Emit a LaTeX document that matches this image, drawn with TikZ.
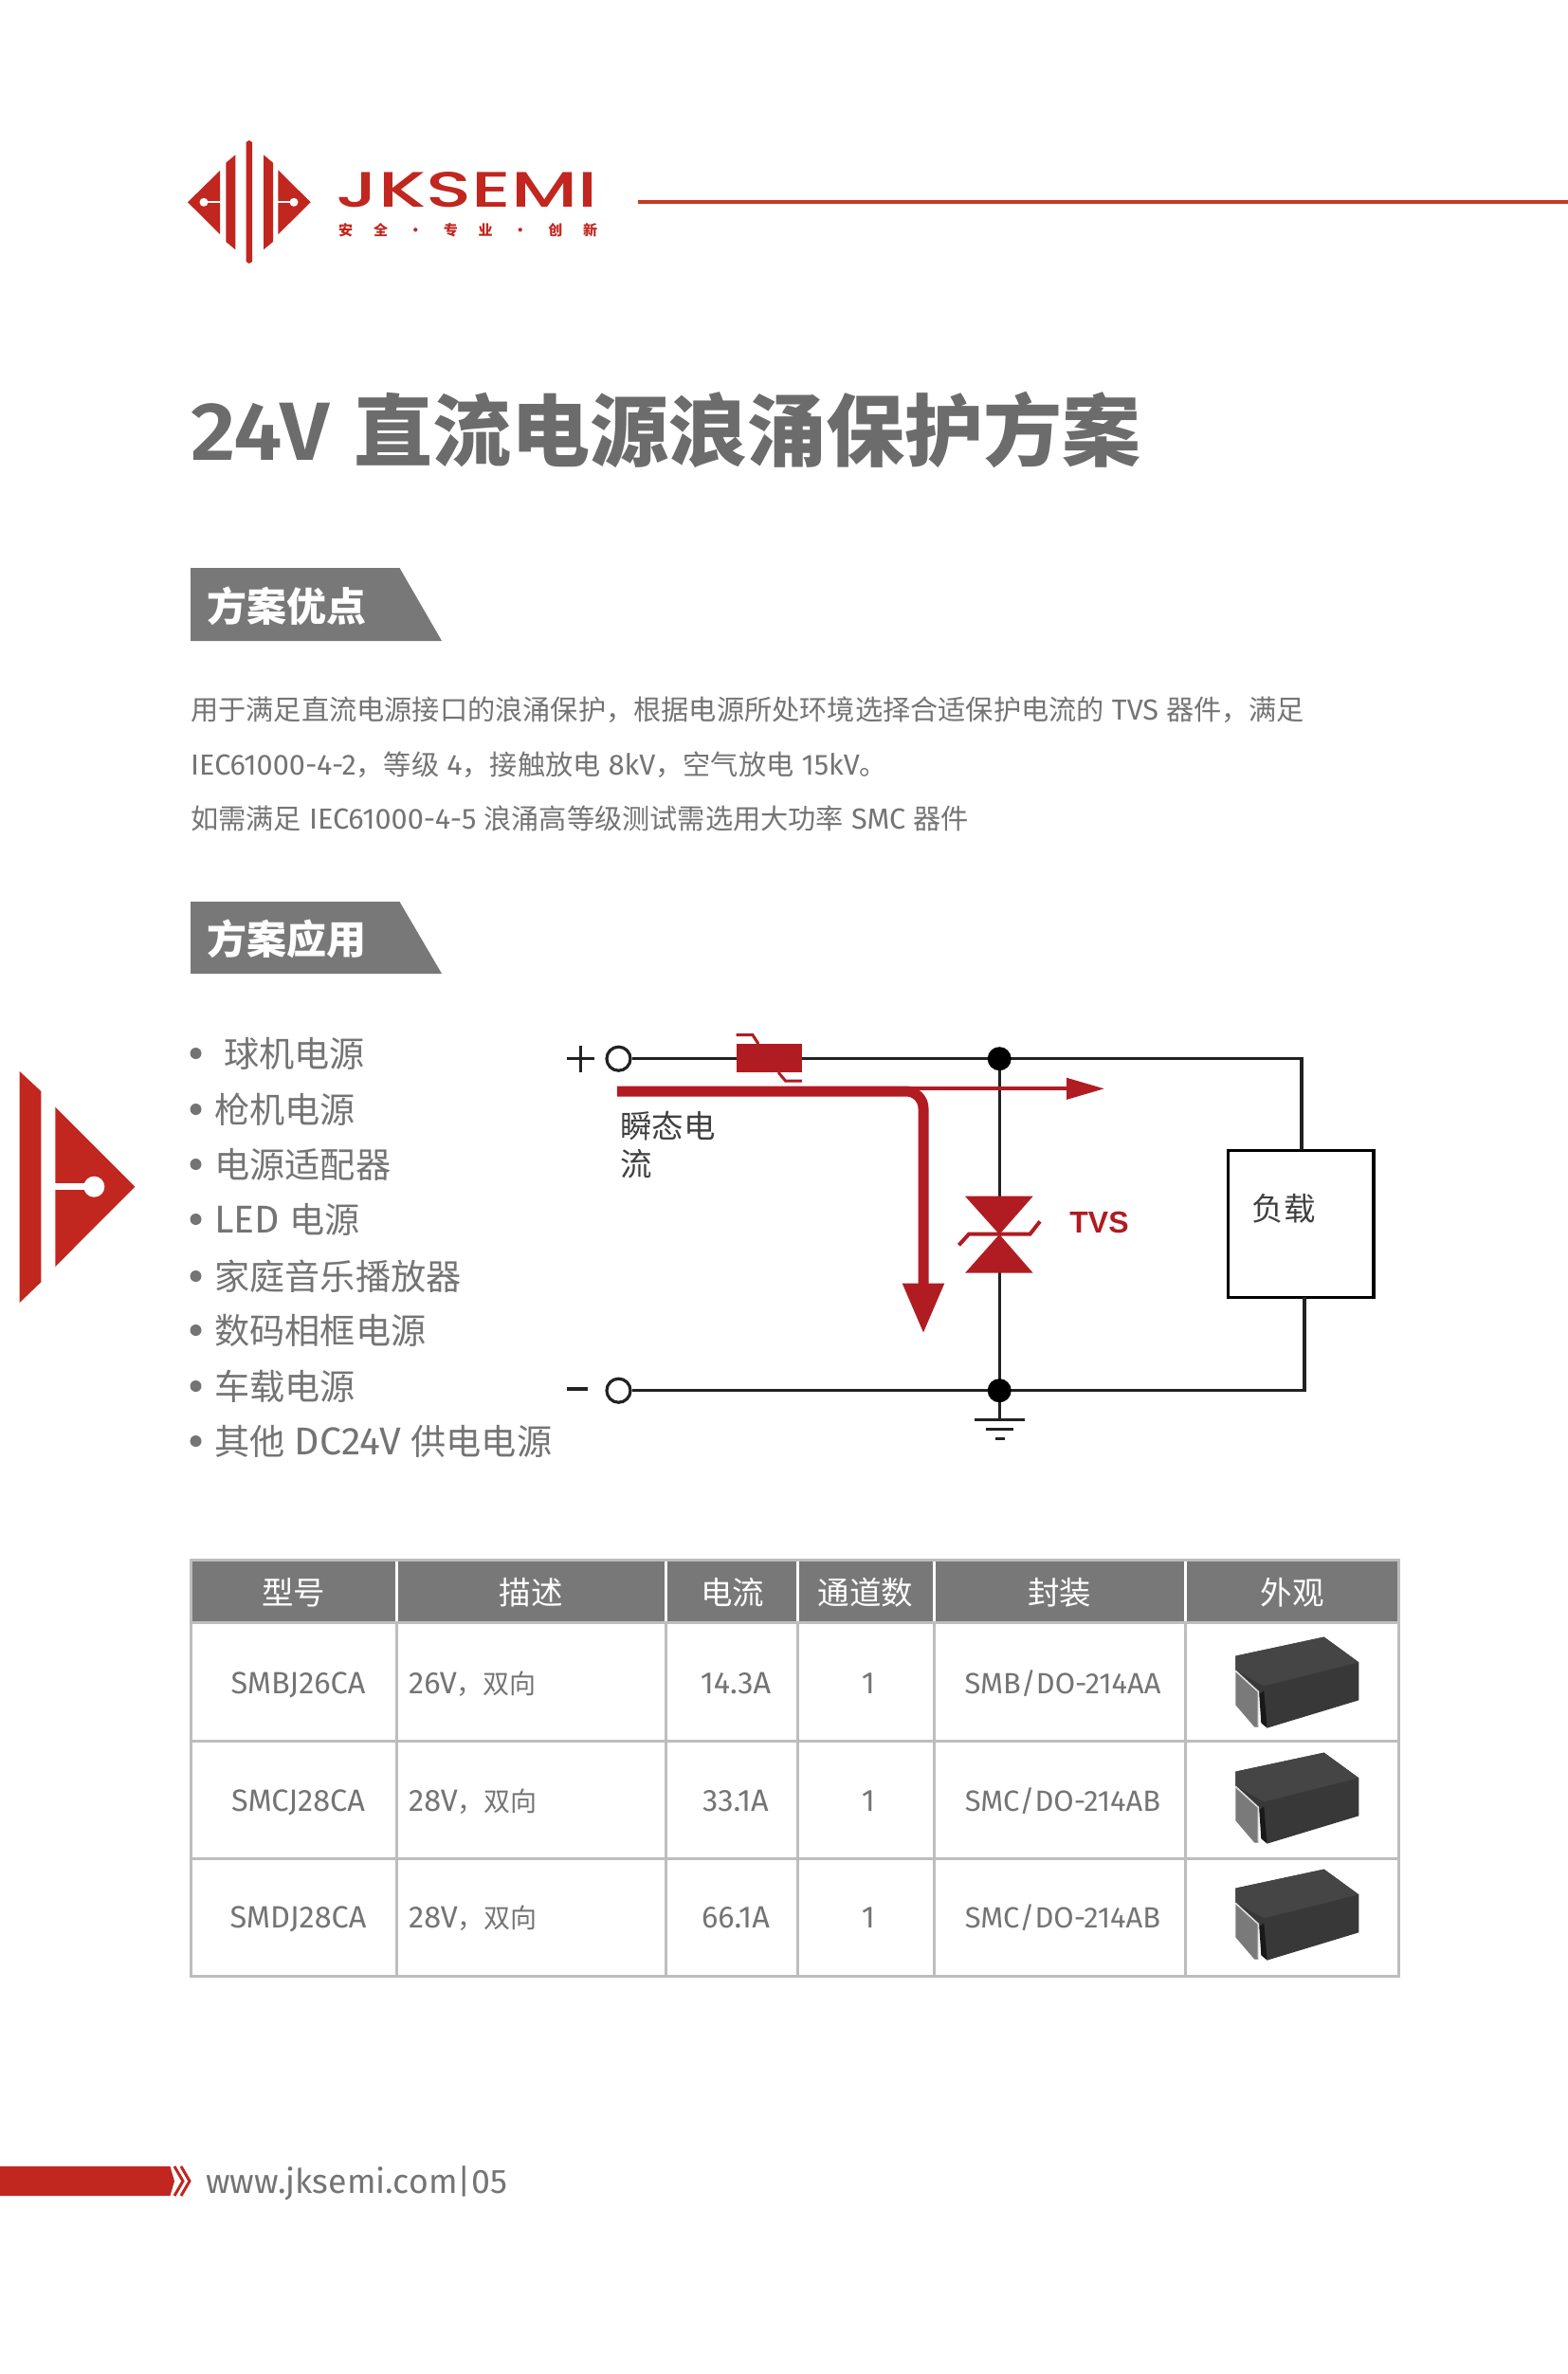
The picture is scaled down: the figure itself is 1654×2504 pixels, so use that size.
\documentclass[tikz,border=0pt]{standalone}
\usepackage{fontspec}
\usepackage{graphicx}
\usetikzlibrary{arrows.meta,calc}
\setmainfont{Fira Sans}[Scale=1.05,BoldFont=* SemiBold]
\newfontfamily\cjk{Noto Sans CJK SC}
\newfontfamily\logofont{Poppins}[UprightFont=* Medium]
\newfontfamily\tvsfont{Liberation Sans}
\newcommand{\zh}[1]{{\cjk #1}}
\newcommand{\fsize}[1]{\fontsize{#1}{#1}\selectfont}
\definecolor{brandred}{HTML}{C1261F}
\definecolor{rulered}{HTML}{C63A26}
\definecolor{surgered}{HTML}{B01C22}
\definecolor{tagfill}{HTML}{787878}
\definecolor{bodygray}{HTML}{747474}
\definecolor{titlegray}{HTML}{6C6C6C}
\definecolor{gridgray}{HTML}{BDBDBD}
\definecolor{wirecol}{HTML}{222222}
\tikzset{
  para/.style={anchor=west,inner sep=0pt,text=bodygray,font=\fsize{29.2},text height=25.7pt,text depth=3.5pt},
  taglabel/.style={anchor=west,inner sep=0pt,text=white,font=\fsize{42}\bfseries},
  appitem/.style={anchor=west,inner sep=0pt,text=bodygray,font=\fsize{37.2},text height=32.7pt,text depth=4.5pt},
  headcell/.style={inner sep=0pt,text=white,font=\fsize{33.5}},
  bodycell/.style={inner sep=0pt,text=bodygray,font=\fsize{30.9},text height=24.6pt,text depth=3.4pt},
  wire/.style={draw=wirecol,line width=3.2pt},
  terminal/.style={circle,draw=wirecol,line width=3.2pt,fill=white,minimum size=25pt,inner sep=0pt},
  junction/.style={circle,fill=black,minimum size=25pt,inner sep=0pt},
  cirlabel/.style={inner sep=0pt,text=black!75,font=\fsize{33.5}},
  chip/.pic={
    \fill[black!78] (-65,-26.7) -- (28.3,-46.7) -- (65,-20) -- (65,20) -- (-31.7,49.3) -- (-40,13.3) -- (-65,-11.7) -- cycle;
    \fill[black!73] (-35,5) -- (65,-20) -- (28.3,-46.7) -- (-65,-26.7) -- (-65,-11.7) -- cycle;
    \fill[black!52] (-65,-10) -- (-41,11.7) -- (-41,48.3) -- (-45,48.3) -- (-65,25) -- cycle;
    \draw[black!12,line width=1.5pt] (-65,-11) -- (-41,11) -- (-41,47);
    \fill[black!90] (-40,14) -- (-35,10) -- (-31.7,49.3) -- (-38,44) -- cycle;
  }
}
\begin{document}
\begin{tikzpicture}[x=1pt,y=-1pt]
  \useasboundingbox (0,0) rectangle (1654,2504);
  % logo
  \fill[brandred] (198,213.3) -- (232,180) -- (232,247) -- cycle;
  \fill[brandred] (238.3,171.7) -- (248.3,163.3) -- (248.3,263.3) -- (238.3,255) -- cycle;
  \fill[brandred] (259.7,150) -- (262.8,148) -- (266,150) -- (266,276) -- (262.8,278) -- (259.7,276) -- cycle;
  \fill[brandred] (278,163.3) -- (288,171.7) -- (288,255) -- (278,263.3) -- cycle;
  \fill[brandred] (293.3,179.3) -- (327.7,213.3) -- (293.3,247.3) -- cycle;
  \fill[white] (215,213.3) circle (4.5);
  \fill[white] (310,213.3) circle (4.5);
  \draw[white,line width=2pt] (215,213.3) -- (232,213.3);
  \draw[white,line width=2pt] (293.3,213.3) -- (310,213.3);
  \node[anchor=north west,inner sep=0pt,text=brandred] (logotext) at (354,181.7) {\resizebox{276pt}{37pt}{\logofont JKSEMI}};
  \node[anchor=west,inner sep=0pt,text=brandred,font=\fsize{15}\cjk\bfseries] (slogan) at (357,243)
    {\makebox[273pt][s]{安\hfill 全\hfill ·\hfill 专\hfill 业\hfill ·\hfill 创\hfill 新}};
  \coordinate (rulestart) at (673,213);
  \coordinate (ruleend) at (1654,213);
  \draw[rulered,line width=3.5pt] (rulestart) -- (ruleend);
  % title
  \node[anchor=west,inner sep=0pt,text=titlegray,font=\fsize{83}\bfseries] (title) at (201,453)
    {\scalebox{1.06}[1]{24V}\hspace{4pt} \zh{直流电源浪涌保护方案}};
  % advantages
  \fill[tagfill] (201,599) -- (421.5,599) -- (466,676) -- (201,676) -- cycle;
  \node[taglabel] (tagone) at (218,639) {\zh{方案优点}};
  \node[para] (lineone) at (201,748) {\zh{用于满足直流电源接口的浪涌保护，根据电源所处环境选择合适保护电流的} TVS \zh{器件，满足}};
  \node[para] (linetwo) at (201,806) {IEC61000-4-2\zh{，等级} 4\zh{，接触放电} 8kV\zh{，空气放电} 15kV\zh{。}};
  \node[para] (linethree) at (201,863) {\zh{如需满足} IEC61000-4-5 \zh{浪涌高等级测试需选用大功率} SMC \zh{器件}};
  % applications
  \fill[tagfill] (201,951) -- (421.5,951) -- (466,1027) -- (201,1027) -- cycle;
  \node[taglabel] (tagtwo) at (218,990) {\zh{方案应用}};
  \foreach \y/\item/\xpos/\idx in {
    1111/{\zh{球机电源}}/236/a, 1170/{\zh{枪机电源}}/226/b, 1228/{\zh{电源适配器}}/226/c,
    1286/{{\fsize{39}LED} \zh{电源}}/226/d, 1346/{\zh{家庭音乐播放器}}/226/e, 1403/{\zh{数码相框电源}}/226/f,
    1462/{\zh{车载电源}}/226/g, 1520/{\zh{其他} {\fsize{39}DC24V} \zh{供电电源}}/226/h}{
    \fill[bodygray] (206.5,\y) circle (6);
    \node[appitem] (app\idx) at (\xpos,\y) {\item};
  }
  % circuit
  \node[terminal] (plus) at (652.5,1116.7) {};
  \node[terminal] (minus) at (652.5,1466.7) {};
  \node[draw=black,line width=3.5pt,minimum width=153.5pt,minimum height=155pt,inner sep=0pt] (load) at (1372.2,1290.8) {};
  \node[cirlabel] (loadtext) at (1354,1275) {\zh{负载}};
  \coordinate (jtop) at (1054.2,1116.7);
  \coordinate (jbot) at (1054.2,1466.7);
  \coordinate (ctop) at (1373,1116.7);
  \coordinate (cbot) at (1376,1466.7);
  \coordinate (loadin) at (1373,1213.3);
  \coordinate (loadout) at (1376,1368.3);
  \coordinate (gnd) at (1054.2,1497.3);
  \draw[wire] (plus) -- (jtop) -- (ctop) -- (loadin);
  \draw[wire] (minus) -- (jbot) -- (cbot) -- (loadout);
  \draw[wire] (jtop) -- (jbot) -- (gnd);
  \draw[wirecol,line width=3.5pt] (1028,1497.3) -- (1081,1497.3);
  \draw[wirecol,line width=3.5pt] (1039.7,1507.7) -- (1069,1507.7);
  \draw[wirecol,line width=3.5pt] (1049.7,1517.7) -- (1060.3,1517.7);
  \node[junction] at (jtop) (dottop) {};
  \node[junction] at (jbot) (dotbot) {};
  \draw[wirecol,line width=3pt] (598,1116.7) -- (627,1116.7);
  \draw[wirecol,line width=3pt] (612.5,1103) -- (612.5,1130.5);
  \draw[wirecol,line width=3.5pt] (598,1465) -- (620,1465);
  % fuse
  \fill[surgered] (776.6,1100.7) rectangle (845.8,1131);
  \draw[surgered,line width=3pt] (776.6,1091.7) -- (794,1091.7) -- (800,1101);
  \draw[surgered,line width=3pt] (845.8,1140) -- (828.5,1140) -- (821,1131);
  % surge path
  \coordinate (flowstart) at (650.8,1151);
  \coordinate (flowbend) at (974,1151);
  \coordinate (flowend) at (974,1406.7);
  \coordinate (thinstart) at (958,1148.3);
  \coordinate (thinend) at (1165,1148.3);
  \draw[surgered,line width=4pt,-{Triangle[width=22pt,length=40pt]}] (thinstart) -- (thinend);
  \draw[surgered,line width=11pt,rounded corners=18pt,-{Triangle[width=41pt,length=53pt]}] (flowstart) -- (flowbend) -- (flowend);
  \node[cirlabel,anchor=west] (surgea) at (654,1188) {\zh{瞬态电}};
  \node[cirlabel,anchor=west] (surgeb) at (654,1228) {\zh{流}};
  % tvs
  \fill[surgered] (1018,1261.7) -- (1089.7,1261.7) -- (1054.2,1302) -- cycle;
  \fill[surgered] (1018,1342.7) -- (1089.7,1342.7) -- (1054.2,1302) -- cycle;
  \draw[surgered,line width=4pt] (1097,1288.3) -- (1086.5,1301.7) -- (1022,1301.7) -- (1011.5,1313.3);
  \node[inner sep=0pt,text=surgered,font=\fsize{32}\tvsfont\bfseries] (tvs) at (1159.5,1289) {TVS};
  % table
  \fill[tagfill] (201,1645) rectangle (1475,1711.7);
  \foreach \x in {418.3,702.5,841.4,985,1250.5}
    \draw[white,line width=3pt] (\x,1647) -- (\x,1711.7);
  \draw[gridgray,line width=3pt] (201,1645) rectangle (1475,2084.3);
  \foreach \y in {1711.7,1836,1960}
    \draw[gridgray,line width=3pt] (201,\y) -- (1475,\y);
  \foreach \x in {418.3,702.5,841.4,985,1250.5}
    \draw[gridgray,line width=3pt] (\x,1711.7) -- (\x,2084.3);
  \node[headcell] (heada) at (309.7,1679.5) {\zh{型号}};
  \node[headcell] (headb) at (560,1679.5) {\zh{描述}};
  \node[headcell] (headc) at (772.7,1679.5) {\zh{电流}};
  \node[headcell] (headd) at (913,1679.5) {\zh{通道数}};
  \node[headcell] (heade) at (1117.5,1679.5) {\zh{封装}};
  \node[headcell] (headf) at (1363,1679.5) {\zh{外观}};
  \foreach \y/\dy/\part/\volt/\amp/\pack/\idx in {
    1775.5/0/SMBJ26CA/26V/14.3A/{SMB/DO-214AA}/a,
    1899.5/122/SMCJ28CA/28V/33.1A/{SMC/DO-214AB}/b,
    2022.5/245/SMDJ28CA/28V/66.1A/{SMC/DO-214AB}/c}{
    \node[bodycell] (part\idx) at (314.5,\y) {\part};
    \node[bodycell,anchor=west] (desc\idx) at (431,\y) {\volt{\fsize{28}\cjk ，双向}};
    \node[bodycell] (amp\idx) at (776,\y) {\amp};
    \node[bodycell] (chan\idx) at (916,\y) {1};
    \node[bodycell,font=\fsize{29.4}] (pack\idx) at (1121,\y) {\pack};
    \pic at (1368.3,1773.3+\dy) {chip};
  }
  % side mark
  \fill[brandred] (20.7,1130) -- (43.3,1151) -- (43.3,1352.3) -- (20.7,1374) -- cycle;
  \fill[brandred] (58.3,1167.7) -- (142.3,1251.7) -- (58.3,1336) -- cycle;
  \fill[white] (99.3,1251.7) circle (11);
  \draw[white,line width=6.5pt] (58.3,1251.7) -- (99.3,1251.7);
  % footer
  \fill[brandred] (0,2285) -- (179.5,2285) -- (184,2300.5) -- (179.5,2316) -- (0,2316) -- cycle;
  \draw[brandred,line width=3pt] (184,2285) -- (193,2300.5) -- (184,2316);
  \draw[brandred,line width=3pt] (191,2285) -- (200,2300.5) -- (191,2316);
  \node[anchor=west,inner sep=0pt,text=bodygray,font=\fsize{34}] (website) at (217,2302.5) {www.jksemi.com|05};
\end{tikzpicture}
\end{document}
